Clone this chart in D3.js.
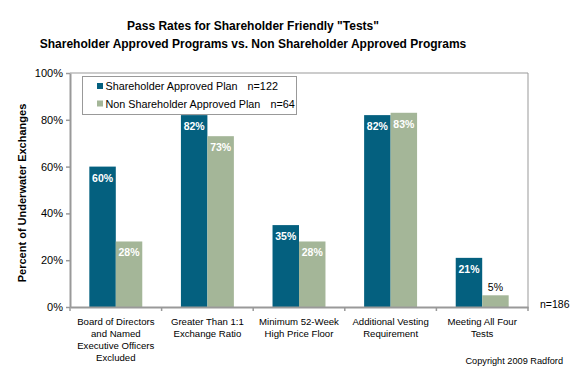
<!DOCTYPE html>
<html><head><meta charset="utf-8">
<script src="https://cdn.jsdelivr.net/npm/d3@7"></script>
<style>body{margin:0;background:#fff}svg{display:block;font-family:Arial,"Liberation Sans",sans-serif}</style>
</head><body><svg id="c" width="579" height="380"></svg>
<script>
const categories = [
  ["Board of Directors","and Named","Executive Officers","Excluded"],
  ["Greater Than 1:1","Exchange Ratio"],
  ["Minimum 52-Week","High Price Floor"],
  ["Additional Vesting","Requirement"],
  ["Meeting All Four","Tests"]
];
const seriesNames = ["Shareholder Approved Plan","Non Shareholder Approved Plan"];
const seriesN = ["n=122","n=64"];
const approved = [60, 82, 35, 82, 21];
const nonApproved = [28, 73, 28, 83, 5];
const yTicks = [0,20,40,60,80,100];
const colors = ["#04607f","#a4b698"];

const svg = d3.select("#c");
const L=70,R=528,T=73,B=307;
const x = d3.scaleBand().domain(d3.range(categories.length)).range([L,R]).paddingInner(0).paddingOuter(0);
const inner = d3.scaleBand().domain([0,1]).range([0,x.bandwidth()]).paddingOuter(0.73).paddingInner(0);
const y = d3.scaleLinear().domain([0,100]).range([B,T]);

// title
svg.append("text").attr("x",253).attr("y",30).attr("text-anchor","middle").attr("font-weight","bold").attr("font-size",12).text('Pass Rates for Shareholder Friendly "Tests"');
svg.append("text").attr("x",253).attr("y",48).attr("text-anchor","middle").attr("font-weight","bold").attr("font-size",12).text('Shareholder Approved Programs vs. Non Shareholder Approved Programs');

// frame
svg.append("path").attr("d",`M${L},${T}H${R}V${B}`).attr("fill","none").attr("stroke","#999").attr("stroke-width",1);

// bars
const series=[approved,nonApproved];
series.forEach((vals,si)=>{
  svg.append("g").selectAll("rect").data(vals).join("rect")
    .attr("x",(d,i)=>x(i)+inner(si)).attr("width",inner.bandwidth())
    .attr("y",d=>y(d)).attr("height",d=>B-y(d)).attr("fill",colors[si]);
  svg.append("g").selectAll("text").data(vals).join("text")
    .attr("x",(d,i)=>x(i)+inner(si)+inner.bandwidth()/2)
    .attr("y",d=> d<10 ? y(d)-4 : y(d)+15)
    .attr("text-anchor","middle").attr("font-size",10.5).attr("font-weight",d=>d<10?"normal":"bold")
    .attr("fill",d=>d<10?"#000":"#fff").text(d=>d+"%");
});

// axes
const ya = d3.axisLeft(y).tickValues(yTicks).tickFormat(d=>d+"%").tickSize(4).tickSizeOuter(0);
const gy = svg.append("g").attr("transform",`translate(${L},0)`).call(ya);
gy.select(".domain").attr("stroke","#999").attr("stroke-width",2);
gy.selectAll(".tick line").attr("stroke","#999").attr("stroke-width",1.5);
gy.selectAll(".tick text").attr("font-size",11).attr("font-family","Arial,'Liberation Sans',sans-serif").attr("fill","#000").attr("x",-7);

const xa = d3.axisBottom(x).tickValues([]).tickSizeOuter(0);
const gx = svg.append("g").attr("transform",`translate(0,${B})`).call(xa);
gx.select(".domain").attr("stroke","#999").attr("stroke-width",2);
gx.selectAll("line.sep").data(d3.range(categories.length+1)).join("line").attr("class","sep")
  .attr("x1",i=>L+i*x.step()).attr("x2",i=>L+i*x.step()).attr("y1",0).attr("y2",4).attr("stroke","#999").attr("stroke-width",1.5);

// category labels
categories.forEach((lines,i)=>{
  const t=svg.append("text").attr("text-anchor","middle").attr("font-size",9.6);
  lines.forEach((ln,j)=>t.append("tspan").attr("x",x(i)+x.bandwidth()/2).attr("y",325+j*12).text(ln));
});

// y title
svg.append("text").attr("transform","translate(26,193) rotate(-90)").attr("text-anchor","middle")
  .attr("font-weight","bold").attr("font-size",11).text("Percent of Underwater Exchanges");

// legend
const lg = svg.append("g");
lg.append("rect").attr("x",82.5).attr("y",76.5).attr("width",214).attr("height",38).attr("fill","#fff").attr("stroke","#999");
seriesNames.forEach((n,i)=>{
  lg.append("rect").attr("x",97).attr("y",83+i*17.5).attr("width",6).attr("height",6).attr("fill",colors[i]);
  const t = lg.append("text").attr("x",105.5).attr("y",90+i*17.5).attr("font-size",10.8).text(n);
  const w = t.node().getComputedTextLength();
  lg.append("text").attr("x",105.5+w+10).attr("y",90+i*17.5).attr("font-size",10.8).text(seriesN[i]);
});

svg.append("text").attr("x",540).attr("y",308).attr("font-size",10.5).text("n=186");
svg.append("text").attr("x",563).attr("y",364).attr("text-anchor","end").attr("font-size",9.2).text("Copyright 2009 Radford");
</script></body></html>
